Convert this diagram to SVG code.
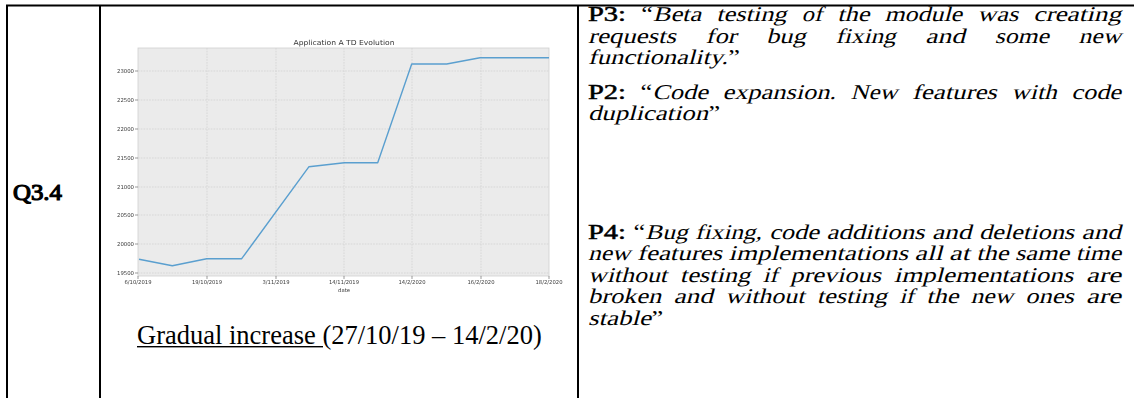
<svg xmlns="http://www.w3.org/2000/svg" width="1134" height="398" viewBox="0 0 1134 398">
  <style>
    .rule{stroke:#000;stroke-width:2;fill:none}
    .serif{font-family:"Liberation Serif","Times New Roman",serif;fill:#000;font-weight:normal;font-style:normal}
    .q{font-size:20px}
    .bf{stroke:#000;stroke-width:0.5}
    .tick{font-family:"DejaVu Sans",sans-serif;font-size:5.4px;fill:#3a3a3a}
    .grid{stroke:#d2d2d2;stroke-width:0.8;stroke-dasharray:1.6 1.2;fill:none}
  </style>
  <defs>
    <filter id="soft" x="-5%" y="-5%" width="110%" height="110%">
      <feGaussianBlur stdDeviation="0.3"/>
    </filter>
  </defs>

  <rect width="1134" height="398" fill="#fff"/>

  <!-- table rules -->
  <g id="table-rules">
    <path class="rule" d="M6 5.5H1134 M7 5V398 M100 5V398 M578 5V398"/>
  </g>

  <!-- first cell: question id -->
  <g id="cell-question">
    <text class="serif bf" font-size="23" style="stroke-width:1.2" x="13" y="200" textLength="49" lengthAdjust="spacingAndGlyphs">Q3.4</text>
  </g>

  <!-- second cell: TD evolution chart and caption -->
  <g id="cell-chart">
    <g id="chart" filter="url(#soft)">
      <text x="344" y="45" font-family="DejaVu Sans, sans-serif" font-size="7" fill="#333" text-anchor="middle" textLength="101" lengthAdjust="spacingAndGlyphs">Application A TD Evolution</text>
      <rect x="138" y="48" width="411" height="228" fill="#ebebeb" stroke="#cfcfcf" stroke-width="0.8"/>
      <path class="grid" d="M207 48V276 M276 48V276 M344 48V276 M412 48V276 M481 48V276
                            M138 71H549 M138 100H549 M138 129H549 M138 158H549 M138 187H549 M138 215H549 M138 244H549 M138 273H549"/>
      <path stroke="#555" stroke-width="0.6" d="M135 71H138 M135 100H138 M135 129H138 M135 158H138 M135 187H138 M135 215H138 M135 244H138 M135 273H138
                                                M138 276V279 M207 276V279 M276 276V279 M344 276V279 M412 276V279 M481 276V279 M549 276V279"/>
      <g class="tick" text-anchor="end">
        <text x="134" y="73" textLength="17" lengthAdjust="spacingAndGlyphs">23000</text>
        <text x="134" y="102" textLength="17" lengthAdjust="spacingAndGlyphs">22500</text>
        <text x="134" y="131" textLength="17" lengthAdjust="spacingAndGlyphs">22000</text>
        <text x="134" y="160" textLength="17" lengthAdjust="spacingAndGlyphs">21500</text>
        <text x="134" y="189" textLength="17" lengthAdjust="spacingAndGlyphs">21000</text>
        <text x="134" y="217" textLength="17" lengthAdjust="spacingAndGlyphs">20500</text>
        <text x="134" y="246" textLength="17" lengthAdjust="spacingAndGlyphs">20000</text>
        <text x="134" y="275" textLength="17" lengthAdjust="spacingAndGlyphs">19500</text>
      </g>
      <g class="tick" text-anchor="middle">
        <text x="138" y="284" textLength="27" lengthAdjust="spacingAndGlyphs">6/10/2019</text>
        <text x="207" y="284" textLength="30" lengthAdjust="spacingAndGlyphs">19/10/2019</text>
        <text x="276" y="284" textLength="27" lengthAdjust="spacingAndGlyphs">3/11/2019</text>
        <text x="344" y="284" textLength="30" lengthAdjust="spacingAndGlyphs">14/11/2019</text>
        <text x="412" y="284" textLength="27" lengthAdjust="spacingAndGlyphs">14/2/2020</text>
        <text x="481" y="284" textLength="27" lengthAdjust="spacingAndGlyphs">16/2/2020</text>
        <text x="549" y="284" textLength="27" lengthAdjust="spacingAndGlyphs">18/2/2020</text>
        <text x="344" y="291.5" textLength="12" lengthAdjust="spacingAndGlyphs">date</text>
      </g>
      <polyline fill="none" stroke="#5a9fcf" stroke-width="1.4" stroke-linejoin="round"
                points="139,259.3 172.3,265.7 206.7,258.7 241.7,258.7 309,166.7 344.3,162.7 377.7,162.7 411.7,64 446.7,64 480,57.7 549,57.7"/>
    </g>
    <text class="serif" font-size="26.5" x="137" y="343.5"><tspan>Gradual increase </tspan>(27/10/19 – 14/2/20)</text>
    <rect x="137" y="346" width="186" height="1.4" fill="#000"/>
  </g>

  <!-- third cell: participant quotes (justified, words placed one by one) -->
  <g id="cell-quotes" class="serif q">
    <!-- P3 -->
    <g id="quote-p3">
      <text transform="translate(588,21) scale(1.3175,1.05)"><tspan class="bf" textLength="28.88" lengthAdjust="spacingAndGlyphs">P3:</tspan><tspan x="40.34">“</tspan></text>
      <text transform="translate(588,21) scale(1.3175,1.05) skewX(-12)"><tspan x="49.22" textLength="36.66" lengthAdjust="spacingAndGlyphs">Beta</tspan><tspan x="97.34" textLength="53.34" lengthAdjust="spacingAndGlyphs">testing</tspan><tspan x="162.14" textLength="15.56" lengthAdjust="spacingAndGlyphs">of</tspan><tspan x="189.16" textLength="24.44" lengthAdjust="spacingAndGlyphs">the</tspan><tspan x="225.06" textLength="58.88" lengthAdjust="spacingAndGlyphs">module</tspan><tspan x="295.4" textLength="31.12" lengthAdjust="spacingAndGlyphs">was</tspan><tspan x="337.98" textLength="66.66" lengthAdjust="spacingAndGlyphs">creating</tspan></text>
      <text transform="translate(588,42.5) scale(1.3175,1.05) skewX(-12)"><tspan x="0" textLength="66.66" lengthAdjust="spacingAndGlyphs">requests</tspan><tspan x="89.28" textLength="23.34" lengthAdjust="spacingAndGlyphs">for</tspan><tspan x="135.24" textLength="30" lengthAdjust="spacingAndGlyphs">bug</tspan><tspan x="187.86" textLength="45.56" lengthAdjust="spacingAndGlyphs">fixing</tspan><tspan x="256.04" textLength="30" lengthAdjust="spacingAndGlyphs">and</tspan><tspan x="308.66" textLength="41.1" lengthAdjust="spacingAndGlyphs">some</tspan><tspan x="372.38" textLength="32.22" lengthAdjust="spacingAndGlyphs">new</tspan></text>
      <text transform="translate(588,64) scale(1.3175,1.05) skewX(-12)"><tspan x="0" textLength="106.12" lengthAdjust="spacingAndGlyphs">functionality.</tspan></text>
      <text transform="translate(588,64) scale(1.3175,1.05)"><tspan x="106.5">”</tspan></text>
    </g>
    <!-- P2 -->
    <g id="quote-p2">
      <text transform="translate(588,98.5) scale(1.3175,1.05)"><tspan class="bf" textLength="28.88" lengthAdjust="spacingAndGlyphs">P2:</tspan><tspan x="39.93">“</tspan></text>
      <text transform="translate(588,98.5) scale(1.3175,1.05) skewX(-12)"><tspan x="48.81" textLength="42.22" lengthAdjust="spacingAndGlyphs">Code</tspan><tspan x="102.08" textLength="86.1" lengthAdjust="spacingAndGlyphs">expansion.</tspan><tspan x="199.23" textLength="35.56" lengthAdjust="spacingAndGlyphs">New</tspan><tspan x="245.84" textLength="64.44" lengthAdjust="spacingAndGlyphs">features</tspan><tspan x="321.33" textLength="34.46" lengthAdjust="spacingAndGlyphs">with</tspan><tspan x="366.84" textLength="37.76" lengthAdjust="spacingAndGlyphs">code</tspan></text>
      <text transform="translate(588,120) scale(1.3175,1.05) skewX(-12)"><tspan x="0" textLength="91.12" lengthAdjust="spacingAndGlyphs">duplication</tspan></text>
      <text transform="translate(588,120) scale(1.3175,1.05)"><tspan x="91.5">”</tspan></text>
    </g>
    <!-- P4 -->
    <g id="quote-p4">
      <text transform="translate(588,238.5) scale(1.3175,1.05)"><tspan class="bf" textLength="28.88" lengthAdjust="spacingAndGlyphs">P4:</tspan><tspan x="34.54">“</tspan></text>
      <text transform="translate(588,238.5) scale(1.3175,1.05) skewX(-12)"><tspan x="43.42" textLength="32.22" lengthAdjust="spacingAndGlyphs">Bug</tspan><tspan x="81.3" textLength="50.56" lengthAdjust="spacingAndGlyphs">fixing,</tspan><tspan x="137.52" textLength="37.76" lengthAdjust="spacingAndGlyphs">code</tspan><tspan x="180.94" textLength="74.46" lengthAdjust="spacingAndGlyphs">additions</tspan><tspan x="261.06" textLength="30" lengthAdjust="spacingAndGlyphs">and</tspan><tspan x="296.72" textLength="72.22" lengthAdjust="spacingAndGlyphs">deletions</tspan><tspan x="374.6" textLength="30" lengthAdjust="spacingAndGlyphs">and</tspan></text>
      <text transform="translate(588,260) scale(1.3175,1.05) skewX(-12)"><tspan x="0" textLength="32.22" lengthAdjust="spacingAndGlyphs">new</tspan><tspan x="37.23" textLength="64.44" lengthAdjust="spacingAndGlyphs">features</tspan><tspan x="106.68" textLength="136.22" lengthAdjust="spacingAndGlyphs">implementations</tspan><tspan x="247.91" textLength="21.12" lengthAdjust="spacingAndGlyphs">all</tspan><tspan x="274.04" textLength="15.56" lengthAdjust="spacingAndGlyphs">at</tspan><tspan x="294.61" textLength="24.44" lengthAdjust="spacingAndGlyphs">the</tspan><tspan x="324.06" textLength="41.1" lengthAdjust="spacingAndGlyphs">same</tspan><tspan x="370.17" textLength="34.44" lengthAdjust="spacingAndGlyphs">time</tspan></text>
      <text transform="translate(588,281.5) scale(1.3175,1.05) skewX(-12)"><tspan x="0" textLength="60.02" lengthAdjust="spacingAndGlyphs">without</tspan><tspan x="69.69" textLength="53.34" lengthAdjust="spacingAndGlyphs">testing</tspan><tspan x="132.7" textLength="11.12" lengthAdjust="spacingAndGlyphs">if</tspan><tspan x="153.49" textLength="68.88" lengthAdjust="spacingAndGlyphs">previous</tspan><tspan x="232.04" textLength="136.22" lengthAdjust="spacingAndGlyphs">implementations</tspan><tspan x="377.93" textLength="26.66" lengthAdjust="spacingAndGlyphs">are</tspan></text>
      <text transform="translate(588,303) scale(1.3175,1.05) skewX(-12)"><tspan x="0" textLength="55.54" lengthAdjust="spacingAndGlyphs">broken</tspan><tspan x="64.87" textLength="30" lengthAdjust="spacingAndGlyphs">and</tspan><tspan x="104.19" textLength="60.02" lengthAdjust="spacingAndGlyphs">without</tspan><tspan x="173.54" textLength="53.34" lengthAdjust="spacingAndGlyphs">testing</tspan><tspan x="236.2" textLength="11.12" lengthAdjust="spacingAndGlyphs">if</tspan><tspan x="256.65" textLength="24.44" lengthAdjust="spacingAndGlyphs">the</tspan><tspan x="290.41" textLength="32.22" lengthAdjust="spacingAndGlyphs">new</tspan><tspan x="331.96" textLength="36.66" lengthAdjust="spacingAndGlyphs">ones</tspan><tspan x="377.94" textLength="26.66" lengthAdjust="spacingAndGlyphs">are</tspan></text>
      <text transform="translate(588,324.5) scale(1.3175,1.05) skewX(-12)"><tspan x="0" textLength="47.78" lengthAdjust="spacingAndGlyphs">stable</tspan></text>
      <text transform="translate(588,324.5) scale(1.3175,1.05)"><tspan x="48.2">”</tspan></text>
    </g>
  </g>
</svg>
